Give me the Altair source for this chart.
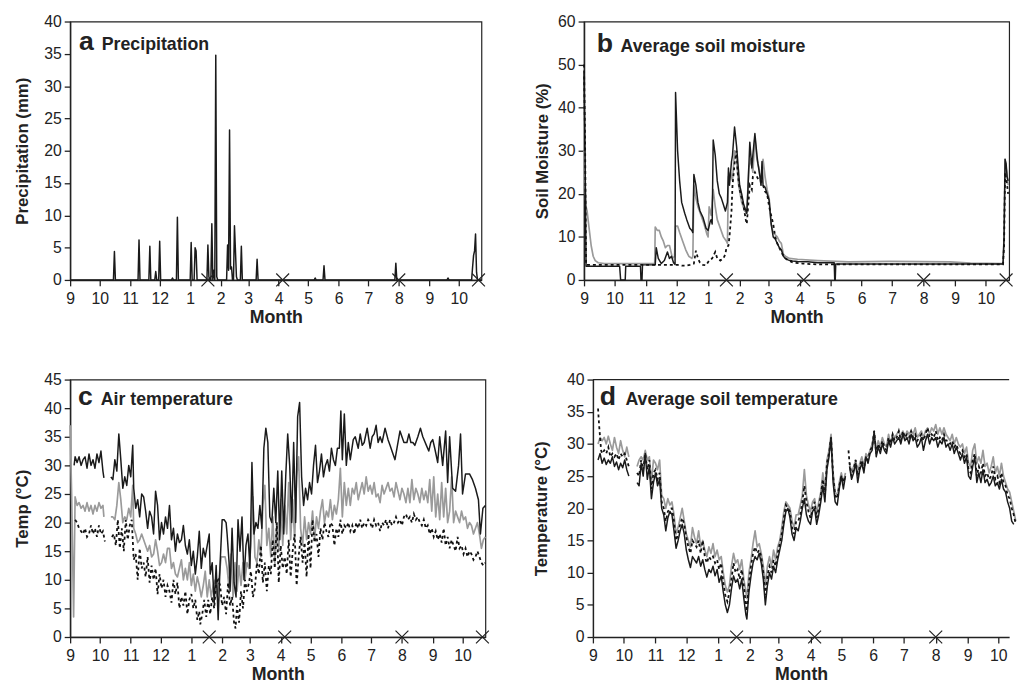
import json
import altair as alt
import pandas as pd

FONT = "Liberation Sans"
INK = "#222222"
GREY = "#9a9a9a"

# ---------------- axis categories ----------------
month_days = [0, 30, 61, 91, 122, 153, 181, 212, 242, 273, 303, 334, 365, 395]
month_labels = ["9", "10", "11", "12", "1", "2", "3", "4", "5", "6", "7", "8", "9", "10"]
cross_days = [140, 216, 334, 415]

letters = ["a", "b", "c", "d"]
titles = ["Precipitation", "Average soil moisture", "Air temperature", "Average soil temperature"]
ytitles = ["Precipitation (mm)", "Soil Moisture (%)", "Temp (°C)", "Temperature (°C)"]

# ---------------- (a) precipitation, rain days (mm) ----------------
rain_days = [45, 70, 81, 87, 91, 104, 109, 123, 127, 128, 140, 141, 144, 146, 148, 149,
             160, 161, 162, 163, 164, 167, 168, 169, 174, 190, 249, 258, 331, 384,
             409, 410, 411, 412, 413]
rain_mm = [4.4, 6.2, 5.2, 1.3, 6.0, 0.3, 9.7, 5.8, 5.0, 4.5, 5.4, 0.5, 8.7, 1.5, 34.8, 0.5,
           5.4, 1.5, 23.2, 1.7, 2.0, 8.4, 4.5, 0.5, 5.2, 3.2, 0.3, 2.2, 2.6, 0.3,
           2.0, 3.8, 4.5, 7.1, 1.2]
precip_last_day = 418

# ---------------- (b) soil moisture (%) ----------------
b_black = [(0, 48), (1, 30), (2, 3.2), (35, 3.2), (36, 0), (40.5, 0), (41, 3.2), (55.5, 3.2), (56, 0),
           (57, 0), (57.5, 3.5), (70, 3.5), (71, 7.5), (73, 5), (76, 3.8), (79, 4.5), (82, 6.5),
           (84, 5), (86, 5.5), (88, 4), (89.5, 3.6), (90, 43.5), (92, 30), (94, 23), (96, 18),
           (99, 15.5), (101, 14), (104, 12), (106, 11.5), (107, 11), (108, 24.5), (110, 22),
           (112, 18), (114, 16), (117, 14.5), (120, 12), (122, 11.5), (124, 13.5), (125, 14),
           (126, 13), (127, 32.5), (129, 29), (131, 23), (133, 20), (135, 19), (137, 17.5),
           (139, 16), (141, 18), (142, 26), (143, 22), (145, 27.5), (146, 29), (148, 35.5),
           (150, 31), (151, 28), (153, 22), (155, 20), (157, 17.5), (160, 15.5), (161, 20),
           (163, 32), (165, 26), (166, 29), (168, 34), (170, 29), (171, 27), (173, 24),
           (174, 22), (175, 27.5), (176, 22), (178, 21.5), (180, 20), (182, 18.5), (184, 13),
           (186, 10), (188, 9.5), (190, 8.5), (192, 7.5), (194, 7), (196, 5.5), (198, 5),
           (201, 4.6), (205, 4.4), (210, 4.3), (220, 4.2), (230, 4), (246, 4), (246.5, 0),
           (247, 0), (247.5, 3.7), (300, 3.7), (412, 3.7), (413, 10), (414, 28), (415, 27),
           (416, 24), (417, 23)]
b_grey = [(0, 30), (1, 22), (2, 17), (3, 16), (5, 12), (7, 8), (9, 5.5), (11, 4.5), (14, 4),
          (20, 3.8), (69.5, 3.8), (70, 12.3), (72, 11.5), (74, 11.5), (76, 10), (78, 9),
          (80, 7.5), (82, 8), (84, 8), (85, 7), (87, 5), (89, 5.5), (90, 12.5), (92, 12.5),
          (94, 11), (97, 9), (100, 7), (103, 5.5), (106, 5), (107, 5.5), (108, 22), (110, 19),
          (112, 17), (115, 15), (118, 13), (121, 10.5), (122, 10), (123, 17), (125, 15),
          (127, 21), (129, 17), (131, 14), (134, 12), (137, 10), (140, 9), (141, 8.5),
          (142, 24), (144, 25), (146, 23), (148, 30), (150, 28), (152, 22), (155, 18),
          (158, 16), (160, 15.5), (162, 26), (164, 28), (166, 25), (168, 33), (170, 28),
          (172, 26), (174, 22), (176, 28), (178, 24), (180, 21), (182, 19), (184, 13),
          (186, 11), (188, 10.5), (190, 10), (192, 9), (194, 8.5), (196, 6), (198, 5.5),
          (202, 5), (210, 4.8), (230, 4.5), (260, 4.2), (300, 4.3), (360, 4.2), (380, 3.9),
          (412, 3.8), (413, 10), (414, 28), (416, 24), (417, 22)]
b_dot = [(0, 50), (1, 33), (2, 3.5), (88, 3.5), (92, 3.5), (96, 3.3), (100, 3.3), (104, 3.5),
         (108, 3.8), (110, 6.8), (112, 5), (114, 4), (117, 3.5), (120, 3.4), (123, 4.5),
         (126, 5), (129, 6.5), (131, 5), (134, 4.5), (137, 5), (139, 6), (140, 7.5), (142, 8),
         (143, 10), (145, 16), (146, 22), (148, 27), (150, 30), (151, 25), (153, 21),
         (155, 19), (157, 17), (159, 14), (160, 13), (161, 16), (163, 22), (165, 21),
         (166, 24), (168, 25), (170, 24), (172, 23), (174, 23), (176, 22), (178, 20.5),
         (180, 20), (182, 17), (184, 15), (186, 13), (188, 10), (190, 8.5), (192, 7.5),
         (195, 6), (198, 5), (201, 4.5), (206, 4), (215, 3.8), (230, 3.6), (412, 3.6),
         (413, 8), (414, 25), (416, 22), (417, 20)]

# ---------------- (c) air temperature (°C); None = no record ----------------
c_max = [(4, 30), (5, 31.5), (7, 30.5), (9, 31.5), (11, 30), (13, 31), (15, 31.5), (17, 29.5),
         (19, 32), (21, 30), (23, 31), (25, 29.5), (27, 32), (29, 30.5), (31, 32.5), (33, 29),
         (34, 27.8), None,
         (41, 28), (43, 27.5), (45, 31), (47, 29), (49, 35.5), (51, 31), (53, 26), (55, 28),
         (57, 26.5), (59, 30), (61, 28), (63, 33.5), (64, 26), (66, 22.5), (68, 24), (70, 21),
         (72, 25), (74, 24.5), (76, 22), (78, 19), (80, 22), (82, 21), (84, 18), (86, 25.5),
         (88, 23), (90, 17), (92, 20), (94, 18), (96, 21), (98, 19), (100, 23), (102, 17),
         (104, 19), (106, 15), (108, 18), (110, 16.5), (112, 17), (114, 19.5), (116, 16),
         (118, 14.5), (120, 17), (122, 12.5), (124, 15), (126, 11), (128, 14), (130, 18.5),
         (132, 12), (134, 15.5), (136, 14), (138, 16), (140, 18), (141, 11), (143, 13),
         (145, 6), (147, 12.5), (149, 3), (151, 13), (153, 20.5), (155, 20.5), (157, 20),
         (158, 18), (160, 13), (161, 8), (163, 19), (165, 9.5), (167, 7), (169, 20.5),
         (171, 15), (173, 21), (175, 10), (177, 16), (179, 18), (181, 12), (183, 30.5),
         (185, 18), (187, 20), (189, 19), (191, 23), (193, 19), (195, 33), (197, 36.5),
         (199, 34), (201, 21), (203, 20), (205, 26), (207, 20), (209, 29), (211, 17),
         (213, 29), (215, 18), (217, 28), (219, 35.5), (221, 30), (223, 20), (225, 34),
         (227, 20), (229, 38.5), (231, 41), (233, 28), (235, 23), (237, 26), (239, 24),
         (241, 27), (243, 25), (245, 30), (247, 33.5), (249, 27), (251, 29), (253, 32),
         (255, 28), (257, 30), (259, 31), (261, 29), (263, 33), (265, 31), (267, 30),
         (269, 33), (271, 33), (272.5, 39.5), (274, 31), (276, 39), (278, 30), (280, 34),
         (282, 31), (285, 34.5), (287, 35), (290, 33), (292, 35.5), (294, 33.5), (296, 34),
         (299, 36.5), (302, 33), (304, 35), (306, 35.5), (308, 37), (310, 34), (312, 35),
         (314, 34), (317, 36.5), (320, 34.5), (322, 33.5), (325, 32), (327, 31), (329, 33),
         (332, 36), (334, 35), (336, 34), (339, 34), (341, 35.5), (343, 34), (345, 34),
         (347, 33.5), (350, 35), (352.6, 36.5), (355, 35), (358.6, 33.5), (361, 32.5),
         (363, 34), (365, 34.5), (367, 33), (370, 30.5), (372, 35), (375, 30), (378, 36),
         (380, 27), (382, 35), (385, 26), (388, 25.5), (391, 30), (393, 35.5), (395, 25),
         (398, 28.5), (402, 28.5), (405, 27.5), (408, 26), (411, 24), (413, 18),
         (415.5, 22.5), (418, 23)]
c_mean = [(0, 37), (1.5, 25), (3.5, 3.5), (5, 24.5), (7, 23), (9, 23.5), (11, 22.5), (13, 23),
          (15, 22), (17, 23.5), (19, 22), (21, 23), (23, 21.5), (25, 23), (27, 22), (29, 23.5),
          (31, 22.5), (33, 23), (34, 21), None,
          (41, 21), (43, 21), (45, 20.5), (47, 23), (49, 27), (51, 24), (53, 20), (55, 21),
          (57, 20.5), (59, 22.5), (61, 21), (63, 26.5), (64, 19), (66, 18), (68, 16.5),
          (70, 17), (72, 18), (74, 17), (76, 16), (78, 15), (80, 16), (82, 14), (84, 14.5),
          (86, 17), (88, 15), (90, 12.5), (92, 13), (94, 14.5), (96, 13), (98, 15.5),
          (100, 15.5), (102, 12), (104, 13), (106, 11), (108, 10.5), (110, 12), (112, 13.5),
          (114, 10), (116, 12), (118, 10), (120, 13), (122, 9), (124, 11), (126, 8),
          (128, 10.5), (130, 9), (132, 7), (134, 9), (136, 11.5), (138, 7), (140, 10),
          (142, 7), (144, 9), (146, 10), (148, 7), (150, 10.5), (152, 14), (154, 14),
          (156, 14), (158, 12), (160, 8.5), (162, 14.5), (164, 7), (166, 13), (168, 8),
          (170, 12.5), (172, 9), (174, 13), (176, 10), (178, 13), (180, 12), (182, 16),
          (184, 24.5), (186, 14), (188, 13), (190, 17), (192, 14), (194, 23), (196, 26.5),
          (198, 16), (200, 19), (202, 14), (204, 21), (206, 13), (208, 20), (210, 15),
          (212, 24), (214, 16), (216, 23), (218, 18), (220, 27), (222, 17), (224, 24),
          (226, 17), (228, 28), (230, 31.5), (232, 19), (234, 16), (236, 21), (238, 17),
          (240, 20), (242, 18), (244, 22), (246, 17), (248, 21), (250, 19), (252, 22),
          (254, 24), (256, 20), (258, 22), (260, 21), (262, 24), (264, 20.5), (266, 23),
          (268, 21.5), (270, 24), (272, 29.5), (274, 21), (276, 27), (278, 23), (280, 26),
          (282, 23), (284, 26), (286, 25), (288, 27), (290, 24), (292, 25.5), (294, 27),
          (296, 25), (298, 28), (300, 25.5), (302, 26.5), (304, 25), (306, 27), (308, 24.5),
          (310, 25), (312, 23.5), (314, 26.5), (316, 25), (318, 26), (320, 27), (322, 25.5),
          (324, 26), (326, 24.5), (328, 27), (330, 25.5), (332, 24), (334, 26), (336, 25),
          (338, 23.5), (340, 26), (342, 23.5), (344, 27.5), (346, 24), (348, 26), (350, 25),
          (352, 23.5), (354, 26), (356, 24), (358, 25.5), (360, 23.5), (362, 27.5), (364, 22),
          (366, 28), (368, 21), (370, 25), (372, 20.5), (374, 27), (376, 21), (378, 26),
          (380, 20), (382, 22), (384, 28), (386, 20), (388, 22), (390, 21), (392, 20),
          (394, 22), (396, 20.5), (398, 21), (400, 19), (402, 20), (404, 19.5), (406, 18),
          (408, 19), (410, 20), (412, 18), (414, 15.5), (416, 17), (418, 17.5)]
c_min = [(5, 20.5), (7, 20), (9, 19), (11, 18.5), (13, 18), (15, 19), (17, 17.5), (19, 18),
         (21, 19.5), (23, 18), (25, 19), (27, 17.5), (29, 19.5), (31, 18), (33, 18.5),
         (35, 16.7), None,
         (42, 17.5), (44, 18), (46, 16), (48, 20.5), (50, 15.5), (52, 19), (54, 15),
         (56, 20.5), (58, 17), (60, 19.5), (62, 20.5), (64, 13.5), (66, 14.5), (68, 10),
         (70, 15.5), (72, 12), (74, 13), (76, 10.5), (78, 14), (80, 9.5), (82, 12.5),
         (84, 10), (86, 12), (88, 7.5), (90, 11), (92, 8.5), (94, 10), (96, 7), (98, 9),
         (100, 8), (102, 6), (104, 10), (106, 7.5), (108, 9.5), (110, 5), (112, 7),
         (114, 5.5), (116, 8), (118, 4), (120, 6.5), (122, 7.5), (124, 5), (126, 6.5),
         (128, 3), (130, 4.5), (131, 2.2), (133, 4), (135, 6.5), (137, 3.5), (139, 6.5),
         (141, 4), (143, 7), (145, 5), (147, 9.5), (149, 10), (151, 9), (153, 5.5), (155, 7),
         (157, 4), (159, 9.5), (161, 5.5), (163, 7), (165, 2.5), (166.5, 1.5), (168, 5.5),
         (170, 2.5), (172, 8), (174, 5), (176, 10), (178, 8), (180, 9.5), (182, 11.5),
         (184, 7), (186, 8.5), (188, 13), (190, 11), (192, 16), (194, 9.5), (196, 13),
         (198, 8), (200, 12.5), (202, 11), (204, 17), (206, 12), (208, 20), (210, 9.5),
         (212, 16), (214, 12), (216, 14), (218, 11), (220, 17), (222, 10.5), (224, 15),
         (226, 18), (228, 9), (230, 14), (232, 17.5), (234, 13), (236, 16.5), (238, 10.5),
         (240, 18), (242, 12), (244, 20.5), (246, 16.5), (248, 18), (250, 14), (252, 19),
         (254, 17), (256, 20), (258, 18.5), (260, 17.5), (262, 20), (264, 19.5), (266, 16),
         (268, 19), (270, 17.5), (272, 20.5), (274, 18), (276, 19.5), (278, 19), (280, 20),
         (282, 18.5), (284, 19.5), (286, 18), (288, 20), (290, 19), (292, 20.5), (294, 19),
         (296, 20), (298, 19.5), (300, 20.5), (302, 20), (304, 19), (306, 20.5), (308, 19.5),
         (310, 20), (312, 18.5), (314, 20), (316, 19.5), (318, 20.5), (320, 19), (322, 20.5),
         (324, 19.5), (326, 20), (328, 21), (330, 20), (332, 20.5), (334, 19.5), (336, 21),
         (338, 21.5), (340, 20.5), (342, 21), (344, 20), (346, 21.5), (348, 20.5), (350, 21),
         (352, 20), (354, 19.5), (356, 20.5), (358, 19), (360, 19.5), (362, 18), (364, 19),
         (366, 17.5), (368, 18.5), (370, 17), (372, 18), (374, 16.5), (376, 19), (378, 16),
         (380, 17.5), (382, 15.5), (384, 17), (386, 16), (388, 15), (390, 17.5), (392, 15.5),
         (394, 16), (396, 14.5), (398, 15.5), (400, 14), (402, 15), (404, 14.5), (406, 13.5),
         (408, 14), (410, 15), (412, 14), (414, 13), (416, 12.5), (418, 13)]

# ---------------- (d) soil temperature (°C); None = no record ----------------
d_black = [(5, 27.5), (7, 28.5), (9, 27), (11, 27.8), (13, 26.8), (15, 27.5), (17, 27), (19, 28),
           (21, 26.5), (23, 27.2), (25, 26), (27, 27), (29, 26.3), (31, 27.5), (33, 26), (35, 25),
           None,
           (43, 24), (45, 23.5), (47, 27), (49, 25), (51, 28.5), (53, 24.5), (55, 26.5),
           (57, 21.5), (59, 24), (61, 25.5), (63, 23.5), (65, 24.5), (67, 20), (69, 19),
           (71, 16.5), (73, 18.5), (75, 19.5), (77, 19), (79, 16.5), (81, 13.8), (83, 15),
           (85, 16.5), (87, 17.5), (89, 16), (91, 13.5), (93, 12), (95, 10.8), (97, 12.5),
           (99, 12), (101, 11.5), (103, 12.5), (105, 11), (107, 12), (109, 10.5), (111, 9.3),
           (113, 10.5), (115, 10), (117, 11), (119, 9.5), (121, 10.5), (123, 8.5), (125, 9.5),
           (127, 7), (129, 5), (131, 3.8), (133, 5), (135, 7.5), (137, 9.5), (139, 8.5),
           (141, 9), (143, 7.5), (145, 9), (147, 6), (149, 3.5), (150, 2.8), (152, 7),
           (154, 9.5), (156, 11.5), (158, 12.5), (160, 12), (162, 13), (164, 11.5), (166, 9),
           (168, 5), (170, 8), (172, 10), (174, 9), (176, 11), (178, 10), (180, 12),
           (182, 13.5), (184, 15), (186, 17.5), (188, 19.5), (190, 20), (192, 18.5), (194, 16),
           (196, 15), (198, 17), (200, 16.5), (202, 18), (204, 20), (206, 21.5), (208, 19),
           (210, 18), (212, 17.5), (214, 19.5), (216, 20), (218, 17.5), (220, 19), (222, 21),
           (224, 23.5), (226, 21), (228, 26), (230, 28), (232, 31), (234, 24), (236, 21),
           (238, 20.5), (240, 23), (242, 25), (244, 23), (246, 25), None,
           (250, 26.5), (252, 24.5), (254, 25.5), (256, 27), (258, 24), (260, 26), (262, 27),
           (264, 25.5), (266, 28), (268, 27), (270, 28.5), (272, 29), (274, 32), (276, 28),
           (278, 29.5), (280, 28.5), (282, 30), (284, 29), (286, 28.5), (288, 30.5),
           (290, 29.5), (292, 31), (294, 30), (296, 30.5), (298, 31), (300, 30), (302, 31.5),
           (304, 30.5), (306, 31), (308, 30), (310, 31.5), (312, 30.5), (314, 31), (316, 29.5),
           (318, 30), (320, 31), (322, 29), (324, 30.5), (326, 31.5), (328, 30), (330, 31),
           (332, 30.5), (334, 31), (336, 29.5), (338, 30.5), (340, 30), (342, 31), (344, 29.5),
           (346, 30), (348, 29), (350, 30), (352, 28.5), (354, 29.5), (356, 28.5), (358, 27.5),
           (360, 28.5), (362, 27), (364, 28), (366, 25), (368, 24.5), (370, 26.5), (372, 28),
           (374, 24), (376, 25.5), (378, 24), (380, 26), (382, 24), (384, 24.5), (386, 23.5),
           (388, 24), (390, 25), (392, 23.5), (394, 24), (396, 23), (398, 24.5), (400, 23),
           (402, 22.5), (404, 21), (406, 20), (408, 18), (410, 17.5)]
d_grey = [(5, 30), (7, 31), (9, 30.5), (11, 31), (13, 30), (15, 31.2), (17, 30), (19, 29),
          (21, 31), (23, 29.5), (25, 28.5), (27, 30.5), (29, 29), (31, 28), (33, 29.5), (35, 28),
          None,
          (43, 26.5), (45, 27.5), (47, 28), (49, 27.5), (51, 29), (53, 27.5), (55, 28),
          (57, 24), (59, 27.5), (61, 27), (63, 26), (65, 27.5), (67, 22), (69, 21.5), (71, 20),
          (73, 21.5), (75, 20.5), (77, 21), (79, 19), (81, 16), (83, 17), (85, 18.5), (87, 20),
          (89, 18), (91, 16), (93, 15), (95, 14), (97, 17), (99, 15.5), (101, 14.5),
          (103, 16.5), (105, 14), (107, 15), (109, 13.5), (111, 12.5), (113, 14), (115, 13),
          (117, 14.5), (119, 12.5), (121, 13.5), (123, 12), (125, 12.5), (127, 10), (129, 8),
          (131, 7), (133, 8), (135, 11), (137, 13), (139, 11.5), (141, 12), (143, 10.5),
          (145, 12), (147, 9), (149, 7), (150, 6), (152, 10), (154, 12), (156, 14.5),
          (158, 16.5), (160, 14), (162, 14.5), (164, 13), (166, 11), (168, 8), (170, 11),
          (172, 12.5), (174, 11), (176, 13.5), (178, 12), (180, 14), (182, 15), (184, 17),
          (186, 19.5), (188, 21), (190, 20.5), (192, 20), (194, 18), (196, 17), (198, 19),
          (200, 19), (202, 20.5), (204, 22), (206, 26), (208, 22), (210, 20.5), (212, 19.5),
          (214, 21), (216, 21.5), (218, 19), (220, 21), (222, 22.5), (224, 25.5), (226, 23),
          (228, 27.5), (230, 29), (232, 31.5), (234, 25.5), (236, 22.5), (238, 22), (240, 24),
          (242, 25.5), (244, 24), (246, 25.5), None,
          (250, 27), (252, 25.5), (254, 26.5), (256, 27.5), (258, 25.5), (260, 27), (262, 28),
          (264, 26.5), (266, 28.5), (268, 28), (270, 29), (272, 30), (274, 31.5), (276, 29),
          (278, 30.5), (280, 29.5), (282, 31), (284, 30), (286, 29.5), (288, 31.5), (290, 30),
          (292, 31.5), (294, 31), (296, 31.5), (298, 32), (300, 31), (302, 32), (304, 31),
          (306, 32), (308, 31.5), (310, 32), (312, 31.5), (314, 32.5), (316, 31), (318, 31.5),
          (320, 32), (322, 31), (324, 32), (326, 32.5), (328, 31.5), (330, 32.5), (332, 32),
          (334, 33), (336, 31.5), (338, 32.5), (340, 31.5), (342, 32.5), (344, 31.5), (346, 31),
          (348, 30.5), (350, 31.5), (352, 30), (354, 31), (356, 30), (358, 29.5), (360, 30),
          (362, 28.5), (364, 29.5), (366, 27), (368, 26.5), (370, 29), (372, 30), (374, 27),
          (376, 28), (378, 27), (380, 29), (382, 26.5), (384, 27), (386, 25.5), (388, 26.5),
          (390, 28), (392, 25.5), (394, 26.5), (396, 25), (398, 27), (400, 25), (402, 24),
          (404, 23), (406, 22.5), (408, 21), (410, 19.5), (412, 18)]
d_dot = [(5, 35.5), (6, 33), (7, 31), (8, 29), (9, 28.5), (11, 29), (13, 28.5), (15, 29.5),
         (17, 28), (19, 28.5), (21, 28), (23, 28.5), (25, 27.5), (27, 28.5), (29, 28),
         (31, 28.5), (33, 27.5), (35, 26.5), None,
         (43, 25.5), (45, 25), (47, 27.5), (49, 26), (51, 28.5), (53, 26), (55, 27.5), (57, 23),
         (59, 25.5), (61, 26), (63, 24.5), (65, 25.5), (67, 21), (69, 20), (71, 18),
         (73, 19.5), (75, 20), (77, 20), (79, 18), (81, 15), (83, 16), (85, 17.5), (87, 18.5),
         (89, 17.5), (91, 15.5), (93, 14), (95, 13), (97, 15), (99, 14.5), (101, 14),
         (103, 15), (105, 13), (107, 15), (109, 12.5), (111, 11.5), (113, 12.5), (115, 12),
         (117, 12.5), (119, 11.5), (121, 12), (123, 10.5), (125, 11.5), (127, 8.5), (129, 6.5),
         (131, 5.5), (133, 7), (135, 9), (137, 11.5), (139, 10), (141, 10.5), (143, 9),
         (145, 10.5), (147, 8), (149, 5), (150, 4), (152, 8.5), (154, 11), (156, 13), (158, 14),
         (160, 13), (162, 13.5), (164, 12.5), (166, 10), (168, 6.5), (170, 9.5), (172, 11),
         (174, 10), (176, 12), (178, 11), (180, 13), (182, 14.5), (184, 16), (186, 18.5),
         (188, 20.5), (190, 20), (192, 19.5), (194, 17), (196, 16), (198, 18), (200, 18),
         (202, 19), (204, 21), (206, 23.5), (208, 21), (210, 19.5), (212, 18.5), (214, 20),
         (216, 21), (218, 18.5), (220, 20), (222, 22), (224, 24.5), (226, 22), (228, 27),
         (230, 28.5), (232, 31), (234, 25), (236, 22), (238, 21.5), (240, 23.5), (242, 25),
         (244, 24), (246, 25), None,
         (249, 29), (250, 27), (252, 25), (254, 26), (256, 27.5), (258, 25), (260, 26.5),
         (262, 27.5), (264, 26), (266, 28), (268, 27.5), (270, 29), (272, 29.5), (274, 32),
         (276, 28.5), (278, 30), (280, 29), (282, 30.5), (284, 29.5), (286, 29), (288, 31),
         (290, 30), (292, 31.5), (294, 30.5), (296, 31), (298, 32), (300, 30.5), (302, 32),
         (304, 31), (306, 31.5), (308, 31), (310, 32), (312, 31), (314, 31.5), (316, 30.5),
         (318, 31), (320, 31.5), (322, 30.5), (324, 31.5), (326, 32.5), (328, 31), (330, 31.5),
         (332, 31), (334, 32), (336, 30.5), (338, 31), (340, 30.5), (342, 31.5), (344, 30.5),
         (346, 30.5), (348, 30), (350, 30.5), (352, 29.5), (354, 30), (356, 29), (358, 28.5),
         (360, 29), (362, 28), (364, 28.5), (366, 26), (368, 25.5), (370, 27.5), (372, 28.5),
         (374, 25), (376, 26.5), (378, 25.5), (380, 27), (382, 25), (384, 25.5), (386, 24.5),
         (388, 25), (390, 26.5), (392, 24.5), (394, 25), (396, 24), (398, 25.5), (400, 24),
         (402, 23.5), (404, 22), (406, 21.5), (408, 20), (410, 19), (412, 17.5)]

# ---------------- helpers ----------------
LABEL_EXPR = f"{json.dumps(month_labels)}[indexof({json.dumps(month_days)}, datum.value)]"
XPATH = "M-1,-1L1,1M-1,1L1,-1"

BLACK = dict(color="#1a1a1a", strokeWidth=1.5, strokeJoin="round")
GREYL = dict(color=GREY, strokeWidth=1.7, strokeJoin="round")
DOTS = dict(color="#111111", strokeWidth=1.8, strokeDash=[3, 3])


def to_df(pairs):
    rows, seg = [], 0
    for p in pairs:
        if p is None:
            seg += 1
            continue
        rows.append({"day": p[0], "v": p[1], "seg": seg})
    return pd.DataFrame(rows)


rain = dict(zip(rain_days, rain_mm))
precip_pairs = [(d, rain.get(d, 0.0)) for d in range(precip_last_day + 1)]


def make_panel(idx, series, xmax, ymax, ystep, w, h, lx, ly, tx, ytpad, crosses, framed=True):
    xenc = alt.X("day:Q", scale=alt.Scale(domain=[0, xmax], nice=False, zero=False),
                 axis=alt.Axis(values=month_days, labelExpr=LABEL_EXPR, title="Month",
                               labelFlush=False, labelOverlap=False))
    yenc = alt.Y("v:Q", scale=alt.Scale(domain=[0, ymax], nice=False, zero=True),
                 axis=alt.Axis(values=list(range(0, ymax + 1, ystep)), title=ytitles[idx],
                               titlePadding=ytpad, labelFlush=False, labelOverlap=False))
    layers = []
    for pairs, style in series:
        layers.append(alt.Chart(to_df(pairs)).mark_line(**style).encode(
            x=xenc, y=yenc, detail="seg:N"))
    cdf = pd.DataFrame({"day": crosses, "v": [0] * len(crosses)})
    layers.append(alt.Chart(cdf).mark_point(shape=XPATH, size=170, filled=False, stroke=INK,
                                            strokeWidth=1.2, opacity=1).encode(x=xenc, y=yenc))
    layers.append(alt.Chart(pd.DataFrame({"t": [letters[idx]]})).mark_text(
        align="left", baseline="alphabetic", font=FONT, fontSize=27, fontWeight="bold",
        color=INK).encode(x=alt.value(lx), y=alt.value(ly), text="t:N"))
    layers.append(alt.Chart(pd.DataFrame({"t": [titles[idx]]})).mark_text(
        align="left", baseline="alphabetic", font=FONT, fontSize=18, fontWeight="bold",
        color=INK).encode(x=alt.value(tx), y=alt.value(ly), text="t:N"))
    props = dict(width=w, height=h)
    if not framed:
        layers.append(alt.Chart(pd.DataFrame({"t": [0]})).mark_rule(color=INK, strokeWidth=1.3)
                      .encode(x=alt.value(0), x2=alt.value(w), y=alt.value(0)))
        props["view"] = alt.ViewBackground(stroke="transparent")
    return alt.layer(*layers).properties(**props)


pa = make_panel(0, [(precip_pairs, BLACK)], 418, 40, 5, 417, 262, 9, 29, 32, 12, cross_days)
pb = make_panel(1, [(b_grey, GREYL), (b_black, BLACK), (b_dot, DOTS)], 418, 60, 10,
                431, 262, 13, 31, 37, 6, cross_days)
pc = make_panel(2, [(c_mean, GREYL), (c_max, BLACK), (c_min, DOTS)], 418, 45, 5,
                421, 261, 8, 26, 31, 12, cross_days)
pd_ = make_panel(3, [(d_grey, GREYL), (d_dot, DOTS), (d_black, BLACK)], 405.5, 40, 5,
                 422, 261, 7, 26, 33, 16, cross_days[:3], framed=False)

row1 = alt.hconcat(pa, pb, spacing=45)
row2 = alt.hconcat(pc, pd_, spacing=40)

chart = alt.vconcat(row1, row2, spacing=44).configure_view(
    stroke=INK, strokeWidth=1.2
).configure_axis(
    labelFont=FONT, titleFont=FONT, labelFontSize=16, titleFontSize=18, titleFontWeight="bold",
    labelColor=INK, titleColor=INK, tickColor=INK, domainColor=INK, domainWidth=1.5,
    tickWidth=1.3, tickSize=6, grid=False
).configure_axisX(
    labelPadding=5, titlePadding=2
).configure_axisY(
    labelPadding=3, titleFontSize=17
).properties(
    padding={"left": 5, "top": 0, "right": 0, "bottom": 0}
)

chart.save("out.html", embed_options={"renderer": "svg", "actions": False})
